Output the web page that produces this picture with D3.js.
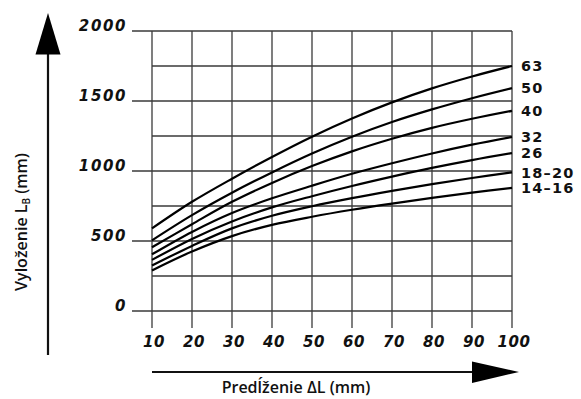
<!DOCTYPE html>
<html><head><meta charset="utf-8">
<script src="https://cdn.jsdelivr.net/npm/d3@7"></script>
<style>
html,body{margin:0;padding:0;background:#fff;}
svg{display:block;}
</style></head>
<body>
<svg id="c" width="581" height="399"></svg>
<script>
// ---- data ----
const deltaL = [10, 20, 30, 40, 50, 60, 70, 80, 90, 100];
const yTickValues = [0, 500, 1000, 1500, 2000];
const yGridValues = [0, 250, 500, 750, 1000, 1250, 1500, 1750, 2000];
const seriesLabels = ["63", "50", "40", "32", "26", "18–20", "14–16"];
const d63   = [590, 780, 945, 1100, 1245, 1375, 1490, 1590, 1675, 1750];
const d50   = [505, 685, 845, 990, 1125, 1245, 1350, 1440, 1520, 1592];
const d40   = [455, 620, 780, 915, 1035, 1140, 1230, 1308, 1373, 1430];
const d32   = [405, 565, 700, 805, 895, 980, 1055, 1125, 1188, 1243];
const d26   = [365, 515, 640, 740, 820, 893, 960, 1022, 1078, 1128];
const d1820 = [325, 465, 590, 680, 748, 806, 858, 906, 950, 990];
const d1416 = [290, 425, 535, 615, 673, 723, 767, 808, 845, 880];
const seriesValues = [d63, d50, d40, d32, d26, d1820, d1416];

// ---- chart ----
const svg = d3.select("#c");
const x = d3.scaleLinear().domain([10, 100]).range([152, 512]);
const y = d3.scaleLinear().domain([0, 2000]).range([311, 31]);
const gridColor = "#3a3a3a";

// horizontal grid
svg.append("g").selectAll("line").data(yGridValues).join("line")
  .attr("x1", d => yTickValues.includes(d) ? 132 : x(10))
  .attr("x2", x(100))
  .attr("y1", d => y(d)).attr("y2", d => y(d))
  .attr("stroke", gridColor).attr("stroke-width", 1.3);

// vertical grid
svg.append("g").selectAll("line").data(deltaL).join("line")
  .attr("x1", d => x(d)).attr("x2", d => x(d))
  .attr("y1", y(2000)).attr("y2", y(0) + 17)
  .attr("stroke", gridColor).attr("stroke-width", 1.3);

// y tick labels
svg.append("g").selectAll("text").data(yTickValues).join("text")
  .attr("x", 127).attr("y", d => y(d))
  .attr("text-anchor", "end")
  .attr("font-family", "DejaVu Sans").attr("font-weight", "bold")
  .attr("font-style", "oblique").attr("font-size", 15)
  .attr("letter-spacing", "1.6px")
  .attr("fill", "#111")
  .text(d => d);

// x tick labels
svg.append("g").selectAll("text").data(deltaL).join("text")
  .attr("x", d => x(d) + 2).attr("y", 346.5)
  .attr("text-anchor", "middle")
  .attr("font-family", "DejaVu Sans").attr("font-weight", "bold")
  .attr("font-style", "oblique").attr("font-size", 15)
  .attr("letter-spacing", "0.6px")
  .attr("fill", "#111")
  .text(d => d);

// curves
const line = d3.line().x((d, i) => x(deltaL[i])).y(d => y(d)).curve(d3.curveCatmullRom);
svg.append("g").selectAll("path").data(seriesValues).join("path")
  .attr("d", d => line(d))
  .attr("fill", "none").attr("stroke", "#000").attr("stroke-width", 2.2);

// series labels
svg.append("g").selectAll("text").data(seriesValues).join("text")
  .attr("x", x(100) + 9).attr("y", d => y(d[d.length - 1]))
  .attr("dy", "0.36em")
  .attr("font-family", "DejaVu Sans").attr("font-weight", "bold")
  .attr("font-size", 14.5).attr("letter-spacing", "1.2px").attr("fill", "#111")
  .text((d, i) => seriesLabels[i]);

// y arrow
svg.append("line").attr("x1", 48).attr("x2", 48).attr("y1", 355).attr("y2", 50)
  .attr("stroke", "#111").attr("stroke-width", 2.2);
svg.append("path").attr("d", "M48,13 L60.5,54.5 L35.5,54.5 Z").attr("fill", "#000");

// x arrow
svg.append("line").attr("x1", 152).attr("x2", 476).attr("y1", 372).attr("y2", 372)
  .attr("stroke", "#111").attr("stroke-width", 2);
svg.append("path").attr("d", "M519,372 L472,361.5 L472,383 Z").attr("fill", "#000");

// y title
const yt = svg.append("text")
  .attr("transform", "translate(27,222) rotate(-90)")
  .attr("text-anchor", "middle")
  .attr("font-family", "Open Sans").attr("font-weight", 600)
  .attr("font-size", 16).attr("fill", "#111");
yt.append("tspan").text("Vyloženie L");
yt.append("tspan").attr("font-size", 10).attr("dy", 3).text("B");
yt.append("tspan").attr("dy", -3).text(" (mm)");

// x title
svg.append("text").attr("x", 296).attr("y", 393)
  .attr("text-anchor", "middle")
  .attr("font-family", "Open Sans").attr("font-weight", 600)
  .attr("font-size", 16).attr("fill", "#111")
  .text("Predĺženie ΔL (mm)");
</script>
</body></html>
